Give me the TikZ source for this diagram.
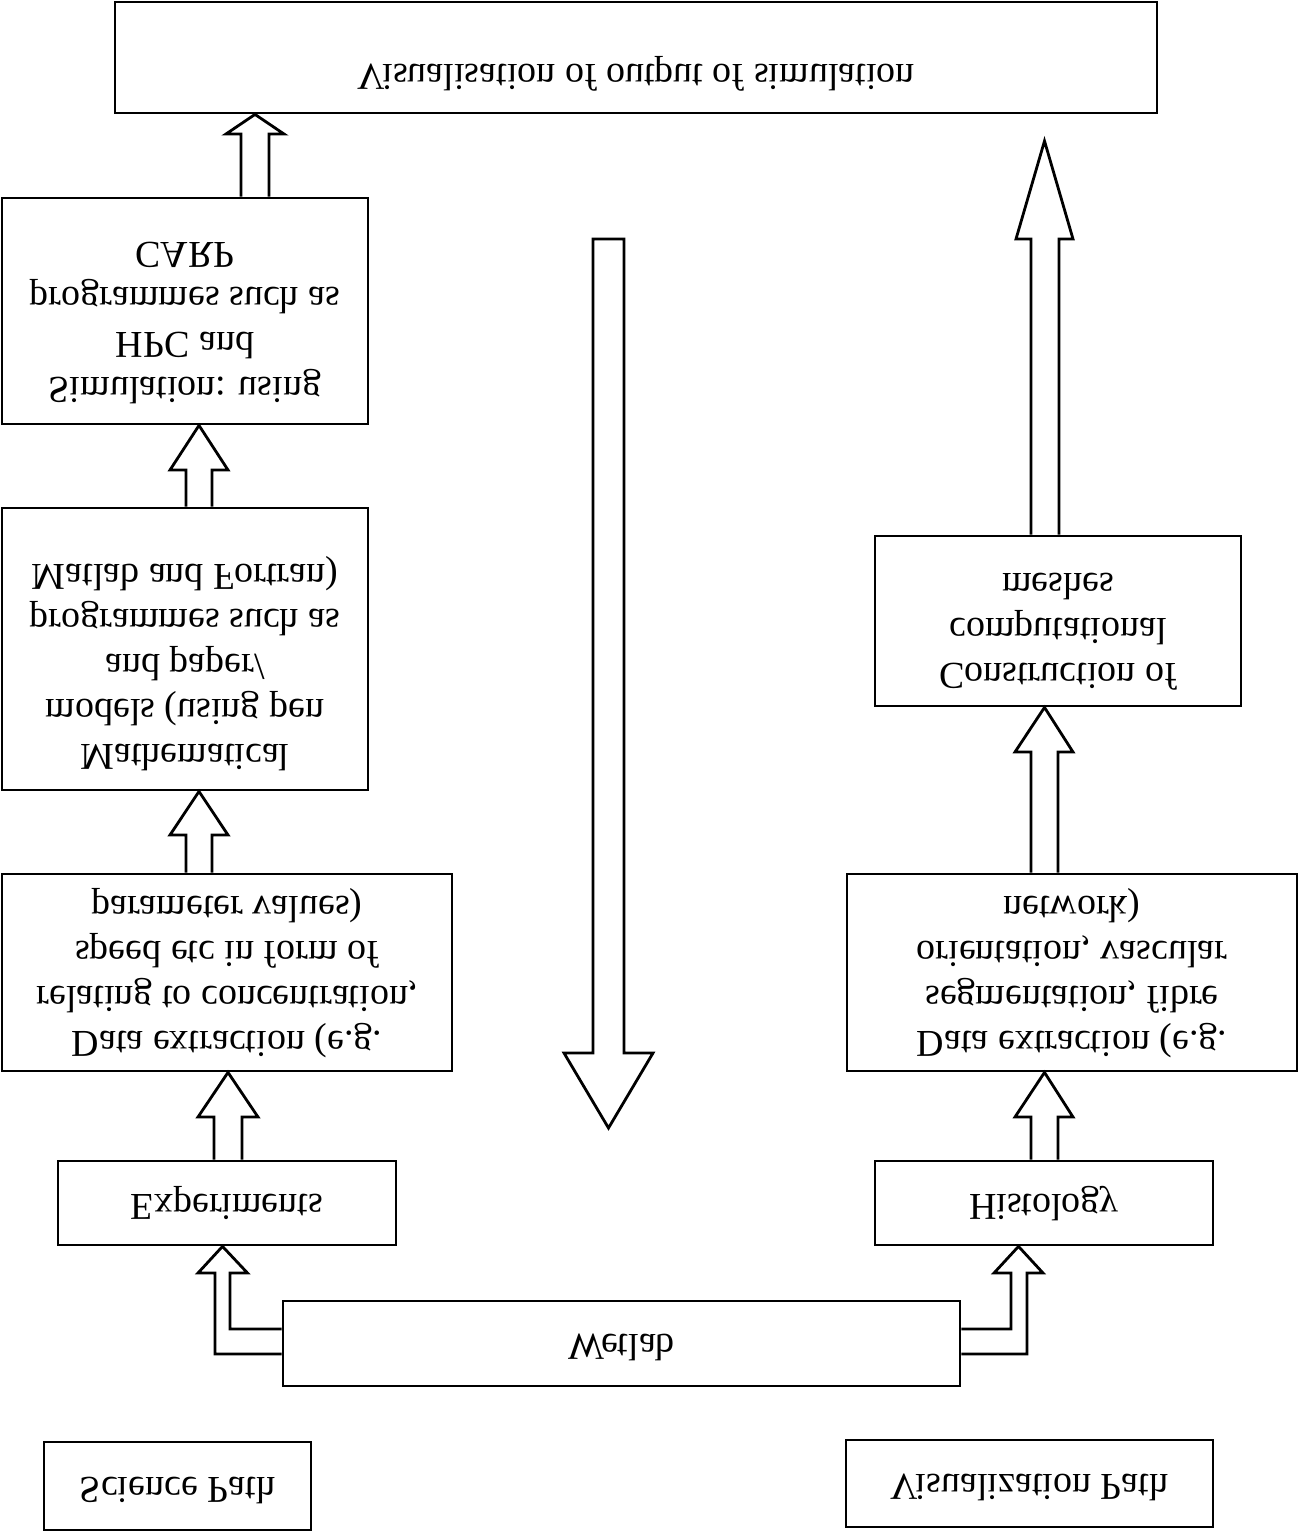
\documentclass[tikz,border=0pt]{standalone}
\usepackage{graphicx}
\usepackage{fontspec}
\setmainfont{Liberation Serif}
\usepackage{tikz}
\usetikzlibrary{calc}

% text is printed mirrored top to bottom, as in the scanned figure
\newcommand{\flip}[2][0pt]{\raisebox{#1}[\height][\depth]{\scalebox{1}[-1]{\begin{tabular}{@{}c@{}}#2\end{tabular}}}}

\begin{document}
\begin{tikzpicture}[x=0.5pt, y=-0.5pt,
    box/.style={draw, line width=1.4pt, inner sep=0pt, font=\fontsize{19}{22.5}\selectfont},
    blk/.style={draw, line width=1.4pt, line join=miter}]
    \useasboundingbox (0,0) rectangle (1299,1532);

    % boxes
    \node[box, minimum width=521pt, minimum height=55.5pt] (vis) at (636,57.5) {\flip[-8pt]{Visualisation of output of simulation}};
    \node[box, minimum width=183pt, minimum height=113pt] (sim) at (185,311) {\flip[-4pt]{Simulation: using\\HPC and\\programmes such as\\CARP}};
    \node[box, minimum width=183pt, minimum height=141pt] (math) at (185,649) {\flip[-7pt]{Mathematical\\models (using pen\\and paper/\\programmes such as\\Matlab and Fortran)}};
    \node[box, minimum width=225pt, minimum height=98.5pt] (dataL) at (227,972.5) {\flip{Data extraction (e.g.\\relating to concentration,\\speed etc in form of\\parameter values)}};
    \node[box, minimum width=169pt, minimum height=42pt] (exp) at (227,1203) {\flip{Experiments}};
    \node[box, minimum width=338.5pt, minimum height=42.5pt] (wet) at (621.5,1343.5) {\flip{Wetlab}};
    \node[box, minimum width=133.5pt, minimum height=44pt] (sci) at (177.5,1486) {\flip{Science Path}};
    \node[box, minimum width=183.5pt, minimum height=43.5pt] (vpath) at (1029.5,1483.5) {\flip{Visualization Path}};
    \node[box, minimum width=169pt, minimum height=42pt] (hist) at (1044,1203) {\flip{Histology}};
    \node[box, minimum width=225pt, minimum height=98.5pt] (dataR) at (1072,972.5) {\flip{Data extraction (e.g.\\segmentation, fibre\\orientation, vascular\\network)}};
    \node[box, minimum width=183pt, minimum height=85pt] (cons) at (1058,621) {\flip[-3pt]{Construction of\\computational\\meshes}};
    \coordinate (uptip) at (1044.5,141);

    % block arrows, science side
    \draw[blk] (241,0 |- sim.north) -- (241,134) -- (226,134) -- (255,0 |- vis.south) -- (284,134) -- (269,134) -- (269,0 |- sim.north);
    \draw[blk] (186,0 |- math.north) -- (186,470) -- (170,470) -- (199,0 |- sim.south) -- (228,470) -- (212,470) -- (212,0 |- math.north);
    \draw[blk] (186,0 |- dataL.north) -- (186,835) -- (170,835) -- (199,0 |- math.south) -- (228,835) -- (212,835) -- (212,0 |- dataL.north);
    \draw[blk] (214,0 |- exp.north) -- (214,1117) -- (198,1117) -- (228,0 |- dataL.south) -- (258,1117) -- (242,1117) -- (242,0 |- exp.north);
    \draw[blk] (wet.west |- 0,1329) -- (230,1329) -- (230,1273) -- (247.5,1273) -- (222.5,0 |- exp.south) -- (198,1273) -- (215,1273) -- (215,1354) -- (wet.west |- 0,1354);

    % block arrows, visualization side
    \draw[blk] (wet.east |- 0,1329) -- (1011,1329) -- (1011,1273) -- (994,1273) -- (1018.5,0 |- hist.south) -- (1043,1273) -- (1027,1273) -- (1027,1354) -- (wet.east |- 0,1354);
    \draw[blk] (1031,0 |- hist.north) -- (1031,1117) -- (1015,1117) -- (1044.5,0 |- dataR.south) -- (1073,1117) -- (1058,1117) -- (1058,0 |- hist.north);
    \draw[blk] (1031,0 |- dataR.north) -- (1031,752) -- (1015,752) -- (1044.5,0 |- cons.south) -- (1073,752) -- (1058,752) -- (1058,0 |- dataR.north);
    \draw[blk] (1031,0 |- cons.north) -- (1031,239) -- (1016,239) -- (uptip) -- (1073,239) -- (1059,239) -- (1059,0 |- cons.north);

    % big arrow in the middle
    \draw[blk] (593,239) -- (624,239) -- (624,1053) -- (653,1053) -- (608.5,1128) -- (564,1053) -- (593,1053) -- cycle;
\end{tikzpicture}
\end{document}
